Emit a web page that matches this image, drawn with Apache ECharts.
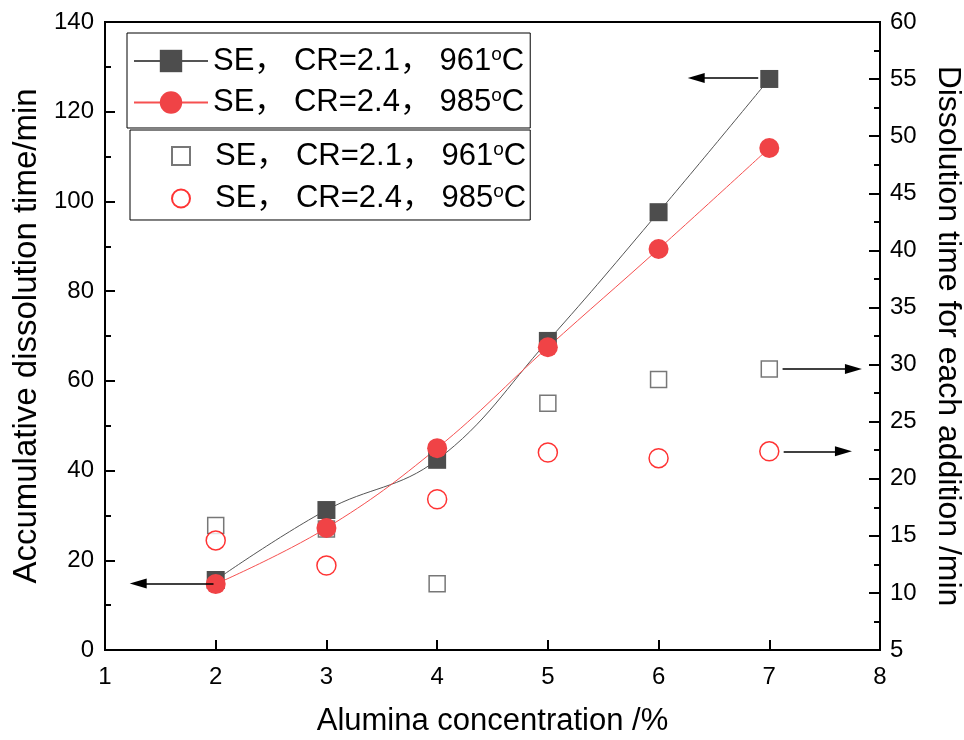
<!DOCTYPE html>
<html>
<head>
<meta charset="utf-8">
<script src="https://cdn.jsdelivr.net/npm/echarts@6/dist/echarts.min.js"></script>
<style>
  html, body { margin: 0; padding: 0; background: #fff; }
  #chart { width: 964px; height: 740px; }
</style>
</head>
<body>
<div id="chart"></div>
<script>
  // 数据
  const alumina = [2, 3, 4, 5, 6, 7]
  const accCR21 = [15.6, 31.2, 42.4, 68.9, 97.6, 127.3]
  const accCR24 = [14.7, 27.2, 45.0, 67.5, 89.4, 111.9]
  const eachCR21 = [15.9, 15.6, 10.8, 26.6, 28.7, 29.6]
  const eachCR24 = [14.6, 12.4, 18.2, 22.3, 21.8, 22.4]

  const names = {
    acc21: ['SE， CR=2.1， 961', 'o', 'C'],
    acc24: ['SE， CR=2.4， 985', 'o', 'C'],
    each21: ['SE， CR=2.1， 961', 'o', 'C'],
    each24: ['SE， CR=2.4， 985', 'o', 'C']
  }

  const pairs = (ys) => alumina.map((x, i) => [x, ys[i]])
  const fontFamily = "'Liberation Sans', Arial, 'Noto Sans CJK SC', sans-serif"

  const legendFmt = (spacer) => (name) => {
    const p = names[name]
    return (spacer ? '{g| }' : '') + '{a|' + p[0] + '}{s|' + p[1] + '}{a|' + p[2] + '}'
  }
  const legendRich = {
    a: { fontSize: 31, lineHeight: 32, fontFamily: fontFamily, color: '#000' },
    s: { fontSize: 19, lineHeight: 32, fontFamily: fontFamily, color: '#000', verticalAlign: 'top', padding: [0, 0, 10, 0] },
    g: { width: 20, fontSize: 10 }
  }

  const arrowLine = { color: '#000', width: 1.5, type: 'solid' }
  const head = [10, 17]

  const chart = echarts.init(document.getElementById('chart'))

  const option = {
    animation: false,
    backgroundColor: '#fff',
    textStyle: { fontFamily: fontFamily },
    grid: {
      left: 105, right: 84, top: 22, bottom: 90,
      outerBoundsMode: 'none',
      show: true, borderColor: '#000', borderWidth: 2, backgroundColor: 'transparent'
    },
    legend: [
      {
        data: ['acc21', 'acc24'],
        orient: 'vertical',
        left: 127, top: 33,
        padding: [12, 6, 10, 6],
        itemGap: 10,
        itemWidth: 74, itemHeight: 28,
        borderColor: '#000', borderWidth: 1,
        formatter: legendFmt(false),
        textStyle: { rich: legendRich },
        selectedMode: false
      },
      {
        data: ['each21', 'each24'],
        orient: 'vertical',
        left: 130, top: 130,
        padding: [10, 4, 6, 41],
        itemGap: 11,
        itemWidth: 18, itemHeight: 18,
        borderColor: '#000', borderWidth: 1,
        formatter: legendFmt(true),
        textStyle: { rich: legendRich },
        selectedMode: false
      }
    ],
    xAxis: {
      type: 'value',
      min: 1, max: 8, interval: 1,
      name: 'Alumina concentration /%',
      nameLocation: 'middle',
      nameGap: 56,
      nameTextStyle: { fontSize: 31, color: '#000' },
      axisLine: { lineStyle: { color: '#000', width: 2 } },
      axisTick: { inside: true, length: 10, lineStyle: { color: '#000', width: 2 } },
      axisLabel: { fontSize: 24, color: '#000', margin: 15 },
      splitLine: { show: false }
    },
    yAxis: [
      {
        type: 'value',
        min: 0, max: 140, interval: 20,
        name: 'Accumulative dissolution time/min',
        nameLocation: 'middle',
        nameGap: 62,
        nameTextStyle: { fontSize: 33, color: '#000' },
        axisLine: { show: true, lineStyle: { color: '#000', width: 2 } },
        axisTick: { inside: true, length: 10, lineStyle: { color: '#000', width: 2 } },
        minorTick: { show: true, splitNumber: 2, length: 6, lineStyle: { color: '#000', width: 2 } },
        axisLabel: { fontSize: 24, color: '#000', margin: 11 },
        splitLine: { show: false }
      },
      {
        type: 'value',
        min: 5, max: 60, interval: 5,
        position: 'right',
        name: 'Dissolution time for each addition /min',
        nameLocation: 'middle',
        nameGap: 52,
        nameRotate: -90,
        nameTextStyle: { fontSize: 32, color: '#000' },
        axisLine: { show: true, lineStyle: { color: '#000', width: 2 } },
        axisTick: { inside: true, length: 11, lineStyle: { color: '#000', width: 2 } },
        minorTick: { show: true, splitNumber: 2, length: 6, lineStyle: { color: '#000', width: 2 } },
        axisLabel: { fontSize: 24, color: '#000', margin: 10 },
        splitLine: { show: false }
      }
    ],
    series: [
      {
        name: 'acc21',
        type: 'line',
        yAxisIndex: 0,
        data: pairs(accCR21),
        smooth: 0.4,
        symbol: 'rect',
        symbolSize: 18,
        lineStyle: { color: '#555', width: 1 },
        itemStyle: { color: '#4d4d4d' },
        markLine: {
          silent: true,
          symbol: ['none', 'triangle'],
          label: { show: false },
          lineStyle: arrowLine,
          data: [
            [{ coord: [1.98, 14.8] }, { coord: [1.3, 14.8], symbolSize: head }],
            [{ coord: [6.9, 127.5] }, { coord: [6.34, 127.5], symbolSize: head }]
          ]
        }
      },
      {
        name: 'acc24',
        type: 'line',
        yAxisIndex: 0,
        data: pairs(accCR24),
        smooth: 0.4,
        symbol: 'circle',
        symbolSize: 20,
        lineStyle: { color: '#f65050', width: 1 },
        itemStyle: { color: '#f04346' }
      },
      {
        name: 'each21',
        type: 'scatter',
        yAxisIndex: 1,
        data: pairs(eachCR21),
        symbol: 'rect',
        symbolSize: 16,
        itemStyle: { color: '#fff', borderColor: '#555', borderWidth: 1.5 },
        markLine: {
          silent: true,
          symbol: ['none', 'triangle'],
          label: { show: false },
          lineStyle: arrowLine,
          data: [
            [{ coord: [7.12, 29.6] }, { coord: [7.76, 29.6], symbolSize: head }],
            [{ coord: [7.13, 22.4] }, { coord: [7.67, 22.4], symbolSize: head }]
          ]
        }
      },
      {
        name: 'each24',
        type: 'scatter',
        yAxisIndex: 1,
        data: pairs(eachCR24),
        symbol: 'circle',
        symbolSize: 19,
        itemStyle: { color: '#fff', borderColor: '#ff0000', borderWidth: 1.5 }
      }
    ]
  }

  chart.setOption(option)
</script>
</body>
</html>
